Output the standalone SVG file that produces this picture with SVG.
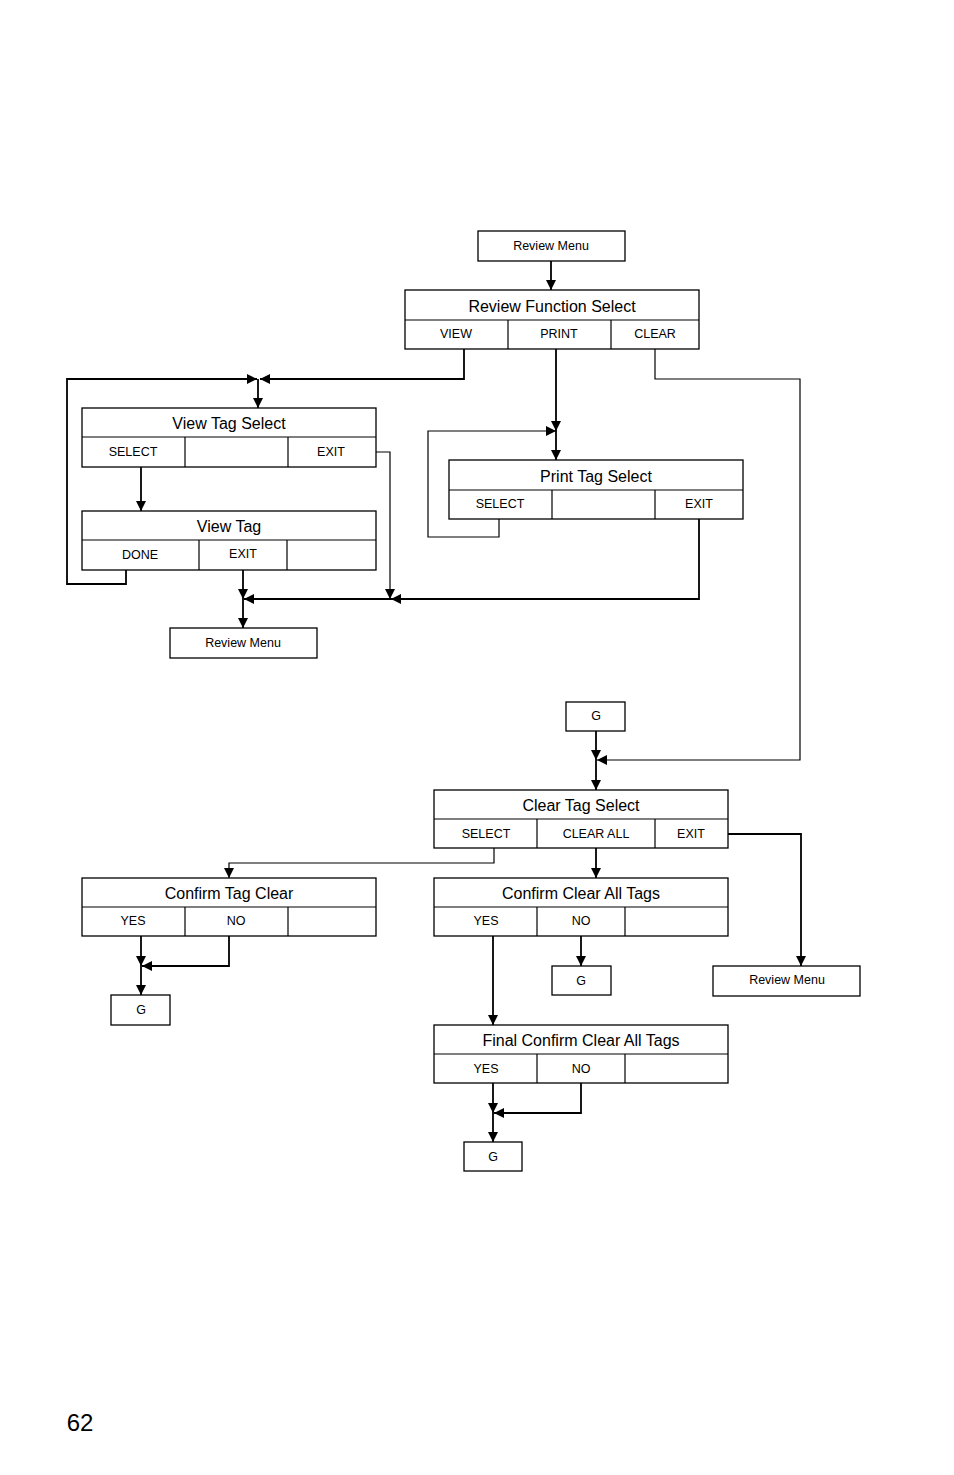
<svg xmlns="http://www.w3.org/2000/svg" width="954" height="1475" viewBox="0 0 954 1475">
<style>
.b{fill:#fff;stroke:#000;stroke-width:1.3}
.l{fill:none;stroke:#000;stroke-width:1.2}
.c{stroke:#000;stroke-width:1.8;fill:none}
text{font-family:"Liberation Sans",Arial,sans-serif;text-anchor:middle;fill:#000}
.t{font-size:16px}.s{font-size:12.5px}
</style>
<defs><marker id="a" viewBox="0 0 10 10" refX="10" refY="5" markerWidth="10" markerHeight="10" orient="auto" markerUnits="userSpaceOnUse"><path d="M0,0L10,5L0,10z"/></marker></defs>
<g id="connectors">
<path class="c" d="M551,261V290" marker-end="url(#a)"/>
<path class="c" d="M464,349V379H260" marker-end="url(#a)"/>
<path class="c" d="M126,570V584H67V379H257" marker-end="url(#a)"/>
<path class="c" d="M258,379V408" marker-end="url(#a)"/>
<path class="c" d="M141,467V511" marker-end="url(#a)"/>
<path class="l" d="M376,452H390V599" marker-end="url(#a)"/>
<path class="c" d="M243,570V599" marker-end="url(#a)"/>
<path class="c" d="M243,599V628" marker-end="url(#a)"/>
<path class="c" d="M699,519V599H391" marker-end="url(#a)"/>
<path class="c" d="M391,599H244" marker-end="url(#a)"/>
<path class="c" d="M556,349V431" marker-end="url(#a)"/>
<path class="c" d="M556,431V460" marker-end="url(#a)"/>
<path class="l" d="M499,519V537H428V431H556" marker-end="url(#a)"/>
<path class="l" d="M655,349V379H800V760H597" marker-end="url(#a)"/>
<path class="c" d="M596,731V760" marker-end="url(#a)"/>
<path class="c" d="M596,760V790" marker-end="url(#a)"/>
<path class="l" d="M494,848V863H229V878" marker-end="url(#a)"/>
<path class="c" d="M596,848V878" marker-end="url(#a)"/>
<path class="c" d="M728,834H801V966" marker-end="url(#a)"/>
<path class="c" d="M141,936V966" marker-end="url(#a)"/>
<path class="c" d="M141,966V995" marker-end="url(#a)"/>
<path class="c" d="M229,936V966H142" marker-end="url(#a)"/>
<path class="c" d="M493,936V1025" marker-end="url(#a)"/>
<path class="c" d="M581,936V966" marker-end="url(#a)"/>
<path class="c" d="M493,1083V1113" marker-end="url(#a)"/>
<path class="c" d="M493,1113V1142" marker-end="url(#a)"/>
<path class="c" d="M581,1083V1113H494" marker-end="url(#a)"/>
</g>
<g id="rm1"><rect class="b" x="478" y="231" width="147" height="30"/><text class="s" x="551" y="250">Review Menu</text></g>
<g id="rfs"><rect class="b" x="405" y="290" width="294" height="59"/><path class="l" d="M405,320H699M508,320V349M611,320V349"/><text class="t" x="552" y="312">Review Function Select</text><text class="s" x="456" y="338">VIEW</text><text class="s" x="559" y="338">PRINT</text><text class="s" x="655" y="338">CLEAR</text></g>
<g id="vts"><rect class="b" x="82" y="408" width="294" height="59"/><path class="l" d="M82,437H376M185,437V467M288,437V467"/><text class="t" x="229" y="429">View Tag Select</text><text class="s" x="133" y="456">SELECT</text><text class="s" x="331" y="456">EXIT</text></g>
<g id="vt"><rect class="b" x="82" y="511" width="294" height="59"/><path class="l" d="M82,540H376M199,540V570M287,540V570"/><text class="t" x="229" y="532">View Tag</text><text class="s" x="140" y="559">DONE</text><text class="s" x="243" y="558">EXIT</text></g>
<g id="rm2"><rect class="b" x="170" y="628" width="147" height="30"/><text class="s" x="243" y="647">Review Menu</text></g>
<g id="pts"><rect class="b" x="449" y="460" width="294" height="59"/><path class="l" d="M449,490H743M552,490V519M655,490V519"/><text class="t" x="596" y="482">Print Tag Select</text><text class="s" x="500" y="508">SELECT</text><text class="s" x="699" y="508">EXIT</text></g>
<g id="g1"><rect class="b" x="566" y="702" width="59" height="29"/><text class="s" x="596" y="720">G</text></g>
<g id="cts"><rect class="b" x="434" y="790" width="294" height="58"/><path class="l" d="M434,819H728M537,819V848M655,819V848"/><text class="t" x="581" y="811">Clear Tag Select</text><text class="s" x="486" y="838">SELECT</text><text class="s" x="596" y="838">CLEAR ALL</text><text class="s" x="691" y="838">EXIT</text></g>
<g id="ctc"><rect class="b" x="82" y="878" width="294" height="58"/><path class="l" d="M82,907H376M185,907V936M288,907V936"/><text class="t" x="229" y="899">Confirm Tag Clear</text><text class="s" x="133" y="925">YES</text><text class="s" x="236" y="925">NO</text></g>
<g id="ccat"><rect class="b" x="434" y="878" width="294" height="58"/><path class="l" d="M434,907H728M537,907V936M625,907V936"/><text class="t" x="581" y="899">Confirm Clear All Tags</text><text class="s" x="486" y="925">YES</text><text class="s" x="581" y="925">NO</text></g>
<g id="rm3"><rect class="b" x="713" y="966" width="147" height="30"/><text class="s" x="787" y="984">Review Menu</text></g>
<g id="g2"><rect class="b" x="111" y="995" width="59" height="30"/><text class="s" x="141" y="1014">G</text></g>
<g id="g3"><rect class="b" x="552" y="966" width="59" height="29"/><text class="s" x="581" y="985">G</text></g>
<g id="fcat"><rect class="b" x="434" y="1025" width="294" height="58"/><path class="l" d="M434,1054H728M537,1054V1083M625,1054V1083"/><text class="t" x="581" y="1046">Final Confirm Clear All Tags</text><text class="s" x="486" y="1073">YES</text><text class="s" x="581" y="1073">NO</text></g>
<g id="g4"><rect class="b" x="464" y="1142" width="58" height="29"/><text class="s" x="493" y="1161">G</text></g>
<text x="80" y="1431" style="font-size:24px">62</text>
</svg>
